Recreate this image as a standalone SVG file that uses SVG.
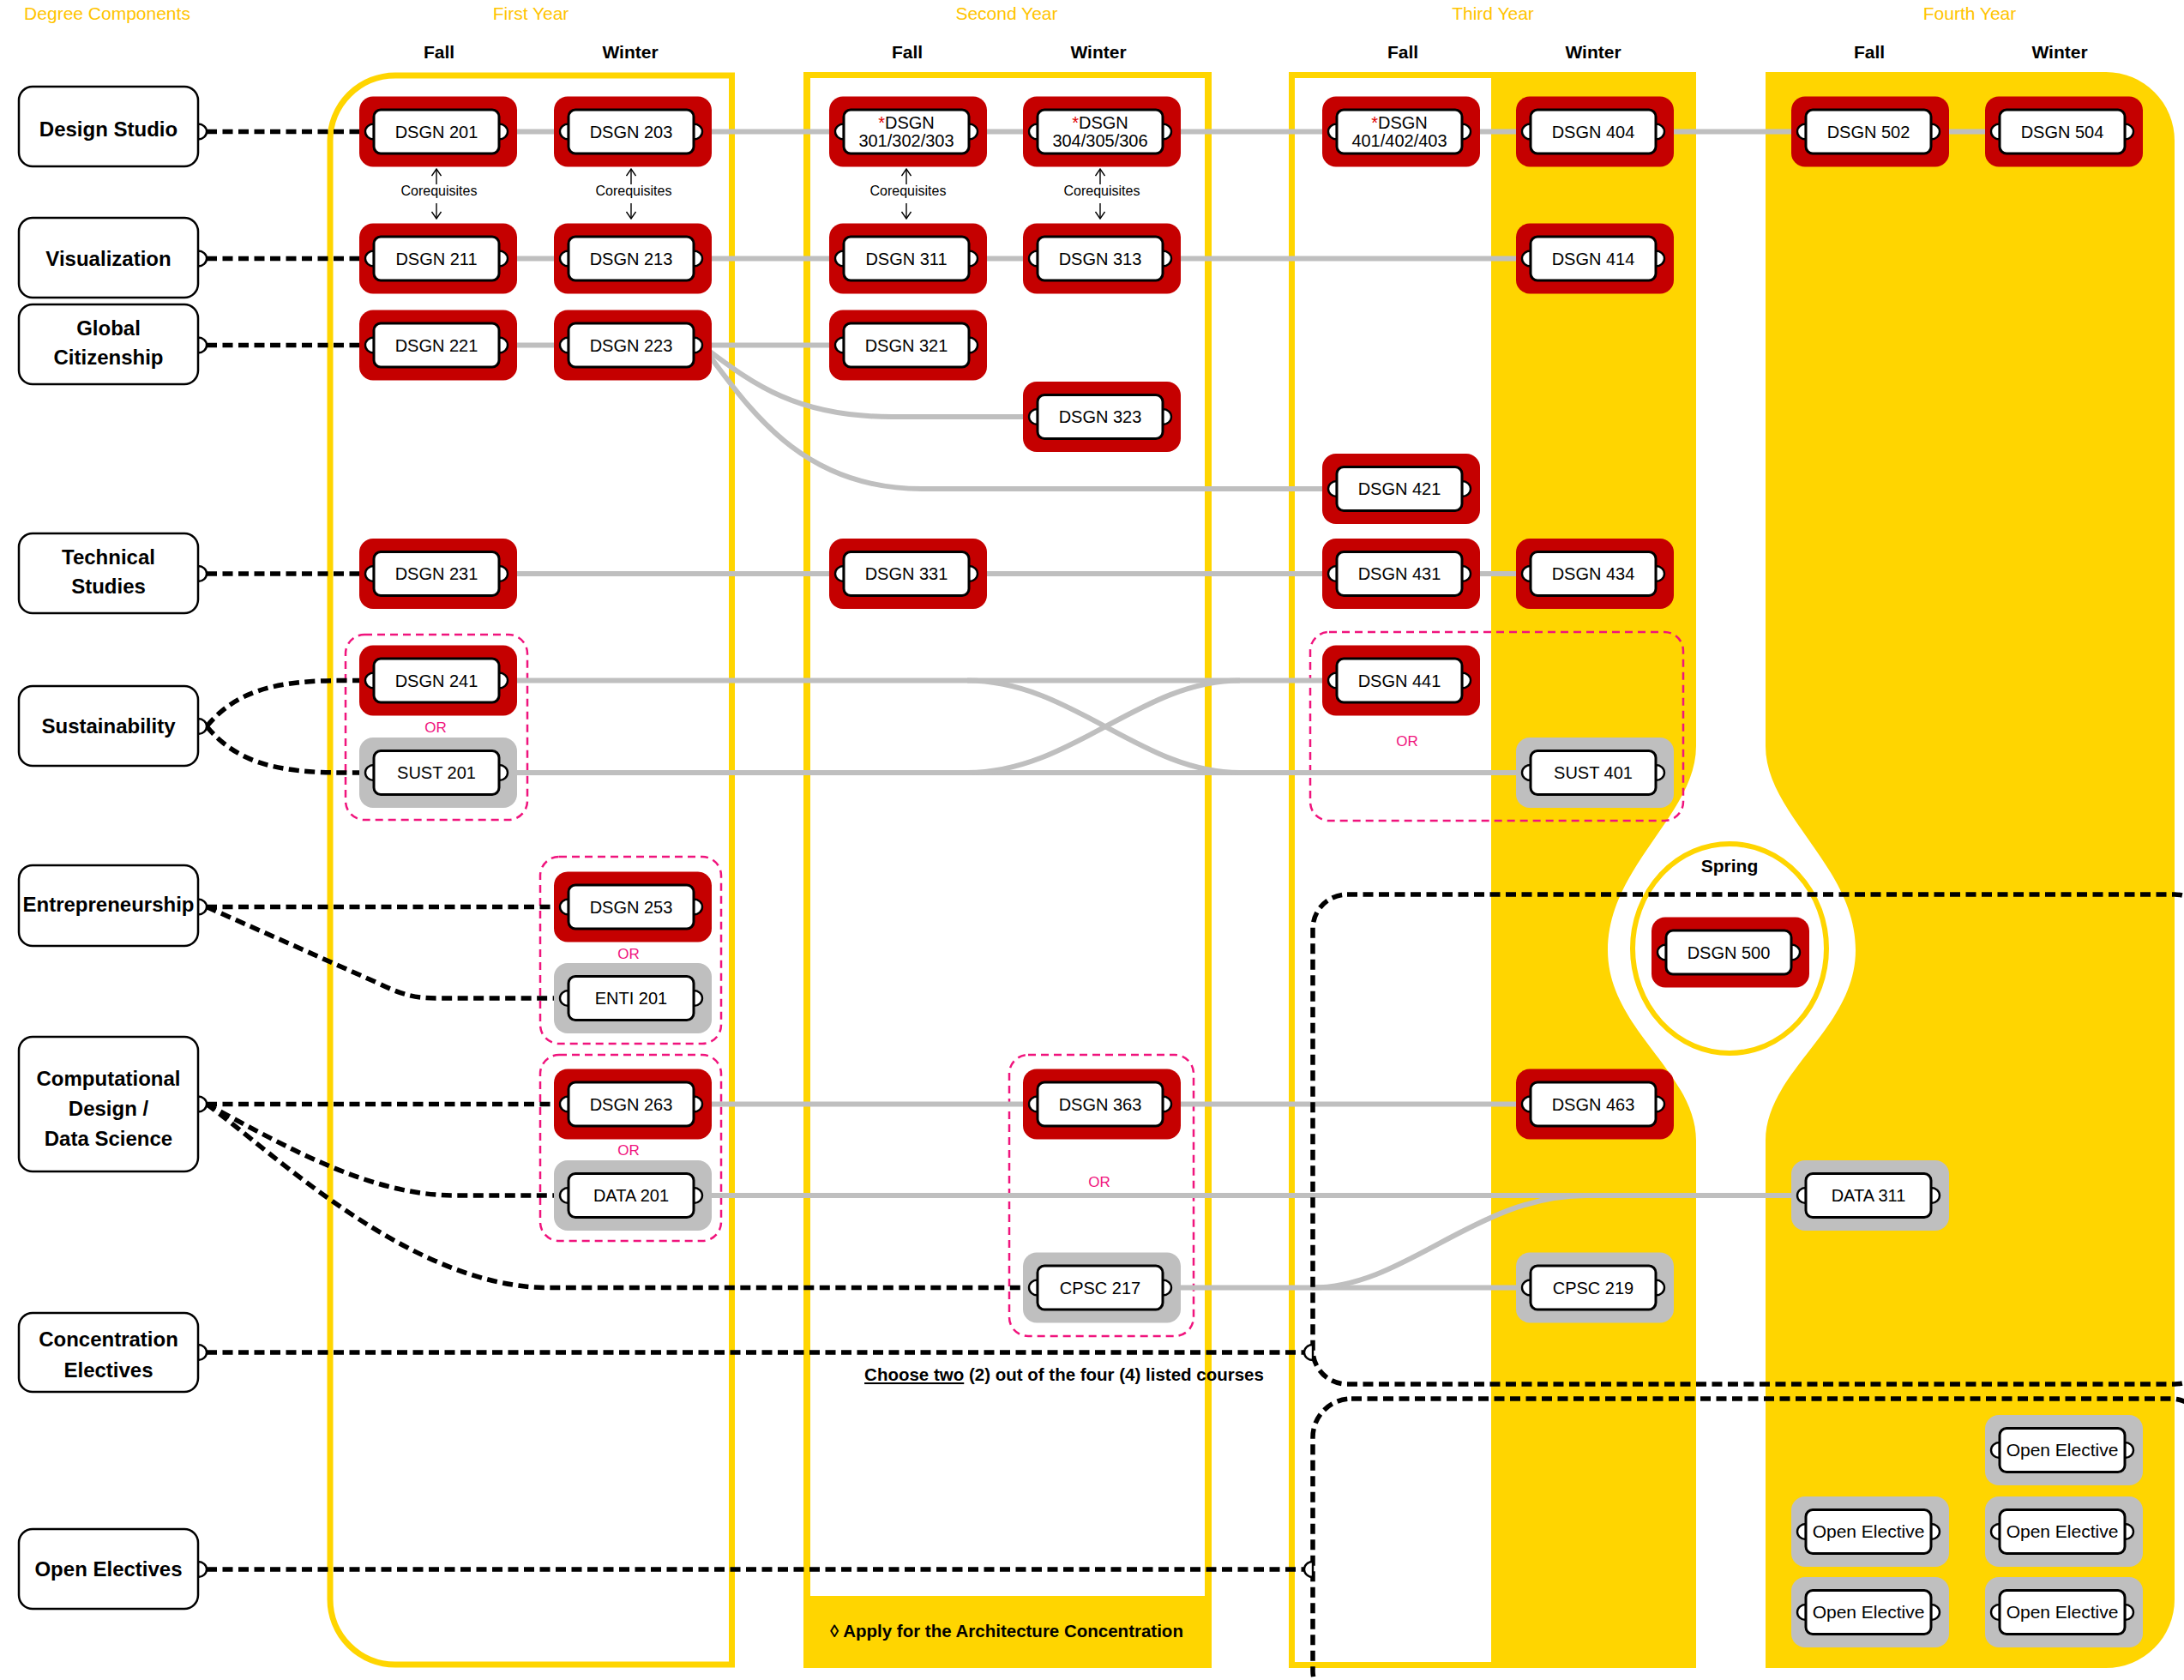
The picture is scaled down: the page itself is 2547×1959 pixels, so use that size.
<svg xmlns="http://www.w3.org/2000/svg" width="2547" height="1959" viewBox="0 0 2547 1959">
<style>
text{font-family:"Liberation Sans",Arial,sans-serif;}
.halo-r{fill:#C50000}
.halo-g{fill:#BFBFBF}
.box{fill:#fff;stroke:#000;stroke-width:3}
.port{fill:#fff;stroke:#000;stroke-width:2.4}
.lbl{font-size:20px;text-anchor:middle;fill:#000}
.oe{font-size:21px}
.comp{fill:#fff;stroke:#000;stroke-width:2.5}
.clbl{font-weight:bold;font-size:24px;text-anchor:middle;fill:#000}
.title{fill:#FFC400;font-size:21px;text-anchor:middle}
.season{font-weight:bold;font-size:21px;text-anchor:middle;fill:#000}
.coreq{font-size:16px;text-anchor:middle;fill:#000}
.carr{fill:none;stroke:#000;stroke-width:1.4}
.g{fill:none;stroke:#BFBFBF;stroke-width:6}
.d{fill:none;stroke:#000;stroke-width:5.5;stroke-dasharray:12 6.5}
.grp{fill:none;stroke:#F0147D;stroke-width:2.5;stroke-dasharray:9 6}
.or{fill:#F0147D;font-size:17px;text-anchor:middle}
.note{font-weight:bold;font-size:20.5px;text-anchor:middle;fill:#000}
.ast{fill:#E00000}
</style>
<defs>
<marker id="arr" viewBox="0 0 12 12" refX="11" refY="6" markerWidth="12" markerHeight="12" markerUnits="userSpaceOnUse" orient="auto"><path d="M3,0.5 L11,6 L3,11.5" fill="none" stroke="#000" stroke-width="1.4"/></marker>
<g id="shell-red">
<rect class="halo-r" x="-17" y="-41" width="184" height="82" rx="16"/>
<path class="port" d="M0,-9 A10,9 0 0 0 0,9 Z"/>
<path class="port" d="M146,-9 A10,9 0 0 1 146,9 Z"/>
<rect class="box" x="0" y="-25.5" width="146" height="51" rx="8"/>
</g>
<g id="shell-grey">
<rect class="halo-g" x="-17" y="-41" width="184" height="82" rx="16"/>
<path class="port" d="M0,-9 A10,9 0 0 0 0,9 Z"/>
<path class="port" d="M146,-9 A10,9 0 0 1 146,9 Z"/>
<rect class="box" x="0" y="-25.5" width="146" height="51" rx="8"/>
</g>
</defs>
<rect width="2547" height="1959" fill="#fff"/>

<g id="panels">
<path d="M461,88 L853.5,88 L853.5,1941 L461,1941 A76,76 0 0 1 385,1865 L385,164 A76,76 0 0 1 461,88 Z" fill="none" stroke="#FFD500" stroke-width="7"/>
<rect x="937" y="84" width="476" height="1861" fill="#FFD500"/>
<rect x="945" y="91" width="460" height="1770" fill="#fff"/>
<rect x="1503" y="84" width="475" height="1861" fill="#FFD500"/>
<rect x="1510" y="91" width="229" height="1847" fill="#fff"/>
<path d="M2059,84 H2456 A80,80 0 0 1 2536,164 V1865 A80,80 0 0 1 2456,1945 H2059 Z" fill="#FFD500"/>
<path d="M1978,870 C1978,950 1875,1010 1875,1108 C1875,1200 1978,1250 1978,1330 L2059,1330 C2059,1250 2164,1200 2164,1108 C2164,1010 2059,950 2059,870 Z" fill="#fff"/>
<ellipse cx="2017" cy="1106" rx="113" ry="122" fill="none" stroke="#FFD500" stroke-width="6"/>
</g>

<g id="headers">
<text class="title" x="125" y="23">Degree Components</text>
<text class="title" x="619" y="23">First Year</text>
<text class="title" x="1174" y="23">Second Year</text>
<text class="title" x="1741" y="23">Third Year</text>
<text class="title" x="2297" y="23">Fourth Year</text>
<text class="season" x="512" y="68">Fall</text>
<text class="season" x="735" y="68">Winter</text>
<text class="season" x="1058" y="68">Fall</text>
<text class="season" x="1281" y="68">Winter</text>
<text class="season" x="1636" y="68">Fall</text>
<text class="season" x="1858" y="68">Winter</text>
<text class="season" x="2180" y="68">Fall</text>
<text class="season" x="2402" y="68">Winter</text>
<text class="season" x="2017" y="1017" font-size="20">Spring</text>
</g>

<g id="groups">
<rect class="grp" x="403" y="740" width="212" height="216" rx="22"/>
<rect class="grp" x="630" y="999" width="211" height="218" rx="22"/>
<rect class="grp" x="630" y="1230" width="211" height="217" rx="22"/>
<rect class="grp" x="1177" y="1230" width="215" height="328" rx="22"/>
<rect class="grp" x="1528" y="737" width="435" height="220" rx="22"/>
<text class="or" x="508" y="854">OR</text>
<text class="or" x="733" y="1118">OR</text>
<text class="or" x="733" y="1347">OR</text>
<text class="or" x="1282" y="1384">OR</text>
<text class="or" x="1641" y="870">OR</text>
</g>

<g id="connectors">
<path class="g" d="M591,153.5 H654"/>
<path class="g" d="M818,153.5 H975"/>
<path class="g" d="M1139,153.5 H1201"/>
<path class="g" d="M1365,153.5 H1550"/>
<path class="g" d="M1714,153.5 H1776"/>
<path class="g" d="M1940,153.5 H2097"/>
<path class="g" d="M2261,153.5 H2323"/>
<path class="g" d="M591,301.5 H654"/>
<path class="g" d="M818,301.5 H975"/>
<path class="g" d="M1139,301.5 H1201"/>
<path class="g" d="M1365,301.5 H1776"/>
<path class="g" d="M591,402.5 H654"/>
<path class="g" d="M818,402.5 H975"/>
<path class="g" d="M818,402.5 C875,445 925,486 1040,486 L1201,486"/>
<path class="g" d="M818,402.5 C870,470 930,570 1075,570 L1550,570"/>
<path class="g" d="M591,669 H975"/>
<path class="g" d="M1139,669 H1550"/>
<path class="g" d="M1714,669 H1776"/>
<path class="g" d="M591,793.5 H1550"/>
<path class="g" d="M591,901 H1776"/>
<path class="g" d="M1128,793.5 C1250,793.5 1330,901 1446,901"/>
<path class="g" d="M1128,901 C1250,901 1330,793.5 1446,793.5"/>
<path class="g" d="M818,1287.5 H1201"/>
<path class="g" d="M1365,1287.5 H1776"/>
<path class="g" d="M818,1394 H2097"/>
<path class="g" d="M1365,1501.5 H1776"/>
<path class="g" d="M1530,1501.5 C1640,1501.5 1720,1394 1850,1394"/>

<path class="d" d="M241,153.5 H427"/>
<path class="d" d="M241,301.5 H427"/>
<path class="d" d="M241,402.5 H427"/>
<path class="d" d="M241,669 H427"/>
<path class="d" d="M241,847 C275,806 320,793.5 400,793.5 H427"/>
<path class="d" d="M241,847 C275,888 320,901 400,901 H427"/>
<path class="d" d="M241,1057.5 H654"/>
<path class="d" d="M241,1057.5 L440,1146 C465,1158 480,1164 510,1164 H654"/>
<path class="d" d="M241,1287.5 H654"/>
<path class="d" d="M241,1287.5 C330,1335 430,1394 530,1394 H654"/>
<path class="d" d="M241,1287.5 C320,1345 480,1501.5 640,1501.5 H1201"/>
<path class="d" d="M241,1577 H1522"/>
<path class="d" d="M241,1830 H1522"/>
<rect class="d" x="1531" y="1043" width="1045" height="571" rx="40"/>
<rect class="d" x="1531" y="1631" width="1045" height="362" rx="45"/>
<path class="port" d="M1531,1568 A10,9 0 0 0 1531,1586 Z"/>
<path class="port" d="M1531,1821 A10,9 0 0 0 1531,1839 Z"/>
</g>

<g id="corequisites">
<path class="carr" d="M509,215 V197" marker-end="url(#arr)"/>
<path class="carr" d="M509,237 V255" marker-end="url(#arr)"/>
<text class="coreq" x="512" y="228">Corequisites</text>
<path class="carr" d="M736,215 V197" marker-end="url(#arr)"/>
<path class="carr" d="M736,237 V255" marker-end="url(#arr)"/>
<text class="coreq" x="739" y="228">Corequisites</text>
<path class="carr" d="M1057,215 V197" marker-end="url(#arr)"/>
<path class="carr" d="M1057,237 V255" marker-end="url(#arr)"/>
<text class="coreq" x="1059" y="228">Corequisites</text>
<path class="carr" d="M1283,215 V197" marker-end="url(#arr)"/>
<path class="carr" d="M1283,237 V255" marker-end="url(#arr)"/>
<text class="coreq" x="1285" y="228">Corequisites</text>
</g>

<g id="components">
<g id="comp-design-studio"><path class="port" d="M231,144.5 A10,9 0 0 1 231,162.5 Z"/><rect class="comp" x="22" y="101" width="209" height="93" rx="16"/><text class="clbl" x="126.5" y="159">Design Studio</text></g>
<g id="comp-visualization"><path class="port" d="M231,292.5 A10,9 0 0 1 231,310.5 Z"/><rect class="comp" x="22" y="254" width="209" height="93" rx="16"/><text class="clbl" x="126.5" y="310">Visualization</text></g>
<g id="comp-global-citizenship"><path class="port" d="M231,393.5 A10,9 0 0 1 231,411.5 Z"/><rect class="comp" x="22" y="355" width="209" height="93" rx="16"/><text class="clbl" x="126.5" y="391">Global</text><text class="clbl" x="126.5" y="425">Citizenship</text></g>
<g id="comp-technical-studies"><path class="port" d="M231,660 A10,9 0 0 1 231,678 Z"/><rect class="comp" x="22" y="622" width="209" height="93" rx="16"/><text class="clbl" x="126.5" y="658">Technical</text><text class="clbl" x="126.5" y="692">Studies</text></g>
<g id="comp-sustainability"><path class="port" d="M231,838 A10,9 0 0 1 231,856 Z"/><rect class="comp" x="22" y="800" width="209" height="93" rx="16"/><text class="clbl" x="126.5" y="855">Sustainability</text></g>
<g id="comp-entrepreneurship"><path class="port" d="M231,1048.5 A10,9 0 0 1 231,1066.5 Z"/><rect class="comp" x="22" y="1009" width="209" height="94" rx="16"/><text class="clbl" x="126.5" y="1063">Entrepreneurship</text></g>
<g id="comp-computational"><path class="port" d="M231,1278.5 A10,9 0 0 1 231,1296.5 Z"/><rect class="comp" x="22" y="1209" width="209" height="157" rx="16"/><text class="clbl" x="126.5" y="1266">Computational</text><text class="clbl" x="126.5" y="1301">Design /</text><text class="clbl" x="126.5" y="1336">Data Science</text></g>
<g id="comp-concentration"><path class="port" d="M231,1568 A10,9 0 0 1 231,1586 Z"/><rect class="comp" x="22" y="1531" width="209" height="92" rx="16"/><text class="clbl" x="126.5" y="1570">Concentration</text><text class="clbl" x="126.5" y="1606">Electives</text></g>
<g id="comp-open-electives"><path class="port" d="M231,1821 A10,9 0 0 1 231,1839 Z"/><rect class="comp" x="22" y="1783" width="209" height="93" rx="16"/><text class="clbl" x="126.5" y="1838">Open Electives</text></g>
</g>

<g id="courses">
<g id="dsgn201" transform="translate(436,153.5)"><use href="#shell-red"/><text class="lbl" x="73" y="7">DSGN 201</text></g>
<g id="dsgn203" transform="translate(663,153.5)"><use href="#shell-red"/><text class="lbl" x="73" y="7">DSGN 203</text></g>
<g id="dsgn301" transform="translate(984,153.5)"><use href="#shell-red"/><text class="lbl" x="73" y="-3.5"><tspan class="ast">*</tspan>DSGN</text><text class="lbl" x="73" y="17.5" font-size="21.5">301/302/303</text></g>
<g id="dsgn304" transform="translate(1210,153.5)"><use href="#shell-red"/><text class="lbl" x="73" y="-3.5"><tspan class="ast">*</tspan>DSGN</text><text class="lbl" x="73" y="17.5" font-size="21.5">304/305/306</text></g>
<g id="dsgn401" transform="translate(1559,153.5)"><use href="#shell-red"/><text class="lbl" x="73" y="-3.5"><tspan class="ast">*</tspan>DSGN</text><text class="lbl" x="73" y="17.5" font-size="21.5">401/402/403</text></g>
<g id="dsgn404" transform="translate(1785,153.5)"><use href="#shell-red"/><text class="lbl" x="73" y="7">DSGN 404</text></g>
<g id="dsgn502" transform="translate(2106,153.5)"><use href="#shell-red"/><text class="lbl" x="73" y="7">DSGN 502</text></g>
<g id="dsgn504" transform="translate(2332,153.5)"><use href="#shell-red"/><text class="lbl" x="73" y="7">DSGN 504</text></g>
<g id="dsgn211" transform="translate(436,301.5)"><use href="#shell-red"/><text class="lbl" x="73" y="7">DSGN 211</text></g>
<g id="dsgn213" transform="translate(663,301.5)"><use href="#shell-red"/><text class="lbl" x="73" y="7">DSGN 213</text></g>
<g id="dsgn311" transform="translate(984,301.5)"><use href="#shell-red"/><text class="lbl" x="73" y="7">DSGN 311</text></g>
<g id="dsgn313" transform="translate(1210,301.5)"><use href="#shell-red"/><text class="lbl" x="73" y="7">DSGN 313</text></g>
<g id="dsgn414" transform="translate(1785,301.5)"><use href="#shell-red"/><text class="lbl" x="73" y="7">DSGN 414</text></g>
<g id="dsgn221" transform="translate(436,402.5)"><use href="#shell-red"/><text class="lbl" x="73" y="7">DSGN 221</text></g>
<g id="dsgn223" transform="translate(663,402.5)"><use href="#shell-red"/><text class="lbl" x="73" y="7">DSGN 223</text></g>
<g id="dsgn321" transform="translate(984,402.5)"><use href="#shell-red"/><text class="lbl" x="73" y="7">DSGN 321</text></g>
<g id="dsgn323" transform="translate(1210,486)"><use href="#shell-red"/><text class="lbl" x="73" y="7">DSGN 323</text></g>
<g id="dsgn421" transform="translate(1559,570)"><use href="#shell-red"/><text class="lbl" x="73" y="7">DSGN 421</text></g>
<g id="dsgn231" transform="translate(436,669)"><use href="#shell-red"/><text class="lbl" x="73" y="7">DSGN 231</text></g>
<g id="dsgn331" transform="translate(984,669)"><use href="#shell-red"/><text class="lbl" x="73" y="7">DSGN 331</text></g>
<g id="dsgn431" transform="translate(1559,669)"><use href="#shell-red"/><text class="lbl" x="73" y="7">DSGN 431</text></g>
<g id="dsgn434" transform="translate(1785,669)"><use href="#shell-red"/><text class="lbl" x="73" y="7">DSGN 434</text></g>
<g id="dsgn241" transform="translate(436,793.5)"><use href="#shell-red"/><text class="lbl" x="73" y="7">DSGN 241</text></g>
<g id="sust201" transform="translate(436,901)"><use href="#shell-grey"/><text class="lbl" x="73" y="7">SUST 201</text></g>
<g id="dsgn441" transform="translate(1559,793.5)"><use href="#shell-red"/><text class="lbl" x="73" y="7">DSGN 441</text></g>
<g id="sust401" transform="translate(1785,901)"><use href="#shell-grey"/><text class="lbl" x="73" y="7">SUST 401</text></g>
<g id="dsgn253" transform="translate(663,1057.5)"><use href="#shell-red"/><text class="lbl" x="73" y="7">DSGN 253</text></g>
<g id="enti201" transform="translate(663,1164)"><use href="#shell-grey"/><text class="lbl" x="73" y="7">ENTI 201</text></g>
<g id="dsgn263" transform="translate(663,1287.5)"><use href="#shell-red"/><text class="lbl" x="73" y="7">DSGN 263</text></g>
<g id="data201" transform="translate(663,1394)"><use href="#shell-grey"/><text class="lbl" x="73" y="7">DATA 201</text></g>
<g id="dsgn363" transform="translate(1210,1287.5)"><use href="#shell-red"/><text class="lbl" x="73" y="7">DSGN 363</text></g>
<g id="cpsc217" transform="translate(1210,1501.5)"><use href="#shell-grey"/><text class="lbl" x="73" y="7">CPSC 217</text></g>
<g id="dsgn463" transform="translate(1785,1287.5)"><use href="#shell-red"/><text class="lbl" x="73" y="7">DSGN 463</text></g>
<g id="data311" transform="translate(2106,1394)"><use href="#shell-grey"/><text class="lbl" x="73" y="7">DATA 311</text></g>
<g id="cpsc219" transform="translate(1785,1501.5)"><use href="#shell-grey"/><text class="lbl" x="73" y="7">CPSC 219</text></g>
<g id="dsgn500" transform="translate(1943,1110.5)"><use href="#shell-red"/><text class="lbl" x="73" y="7">DSGN 500</text></g>
<g id="oe1" transform="translate(2332,1691)"><use href="#shell-grey"/><text class="lbl oe" x="73" y="7">Open Elective</text></g>
<g id="oe2" transform="translate(2106,1786)"><use href="#shell-grey"/><text class="lbl oe" x="73" y="7">Open Elective</text></g>
<g id="oe3" transform="translate(2332,1786)"><use href="#shell-grey"/><text class="lbl oe" x="73" y="7">Open Elective</text></g>
<g id="oe4" transform="translate(2106,1880)"><use href="#shell-grey"/><text class="lbl oe" x="73" y="7">Open Elective</text></g>
<g id="oe5" transform="translate(2332,1880)"><use href="#shell-grey"/><text class="lbl oe" x="73" y="7">Open Elective</text></g>
</g>

<g id="notes">
<text class="note" x="1241" y="1610"><tspan text-decoration="underline">Choose two</tspan> (2) out of the four (4) listed courses</text>
<text class="note" x="1174" y="1909" font-size="21">◊ Apply for the Architecture Concentration</text>
</g>
</svg>
